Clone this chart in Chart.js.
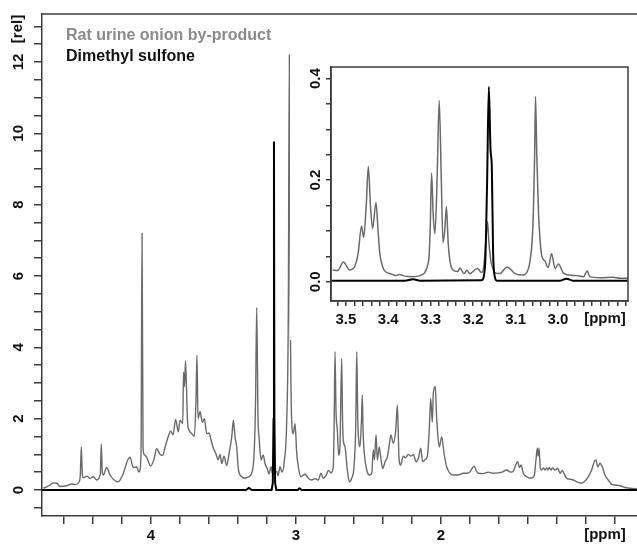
<!DOCTYPE html>
<html>
<head>
<meta charset="utf-8">
<script src="https://cdn.jsdelivr.net/npm/chart.js@4.4.1/dist/chart.umd.min.js"></script>
<style>
  html, body { margin: 0; padding: 0; background: #fff; }
  #wrap { position: relative; width: 637px; height: 548px; overflow: hidden; }
  #main { position: absolute; left: 0; top: 0; }
  #inset { position: absolute; left: 290px; top: 55px; }
</style>
</head>
<body>
<div id="wrap">
  <canvas id="main" width="637" height="548"></canvas>
  <canvas id="inset" width="347" height="285"></canvas>
</div>
<script>
// ---- Full spectrum: chemical shift [ppm] and relative intensity ----
const urineShift = [
  4.743, 4.719, 4.697, 4.674, 4.650, 4.628, 4.581, 4.547, 4.524, 4.501,
  4.488, 4.481, 4.474, 4.467, 4.443, 4.421, 4.398, 4.374, 4.350, 4.343,
  4.336, 4.329, 4.306, 4.283, 4.248, 4.226, 4.191, 4.163, 4.145, 4.122,
  4.099, 4.083, 4.069, 4.062, 4.055, 4.048, 4.030, 4.002, 3.979, 3.961,
  3.938, 3.919, 3.903, 3.881, 3.864, 3.848, 3.830, 3.812, 3.800, 3.781,
  3.776, 3.769, 3.762, 3.755, 3.748, 3.738, 3.719, 3.701, 3.690, 3.683,
  3.676, 3.662, 3.646, 3.632, 3.616, 3.600, 3.586, 3.570, 3.554, 3.536,
  3.524, 3.512, 3.497, 3.478, 3.460, 3.443, 3.432, 3.421, 3.409, 3.398,
  3.374, 3.352, 3.329, 3.306, 3.288, 3.279, 3.271, 3.262, 3.255, 3.241,
  3.226, 3.214, 3.198, 3.186, 3.172, 3.163, 3.152, 3.133, 3.124, 3.110,
  3.097, 3.081, 3.064, 3.053, 3.046, 3.039, 3.030, 3.019, 3.007, 2.995,
  2.984, 2.966, 2.938, 2.915, 2.892, 2.869, 2.846, 2.828, 2.812, 2.793,
  2.777, 2.759, 2.743, 2.737, 2.731, 2.724, 2.715, 2.706, 2.697, 2.685,
  2.679, 2.674, 2.662, 2.646, 2.632, 2.616, 2.600, 2.588, 2.581, 2.574,
  2.568, 2.559, 2.548, 2.543, 2.537, 2.529, 2.512, 2.494, 2.478, 2.467,
  2.459, 2.448, 2.439, 2.426, 2.416, 2.402, 2.386, 2.370, 2.357, 2.345,
  2.329, 2.312, 2.301, 2.294, 2.290, 2.278, 2.260, 2.245, 2.226, 2.207,
  2.190, 2.172, 2.155, 2.140, 2.126, 2.110, 2.094, 2.081, 2.071, 2.060,
  2.053, 2.039, 2.032, 2.026, 2.012, 1.995, 1.979, 1.961, 1.938, 1.915,
  1.883, 1.846, 1.819, 1.800, 1.786, 1.772, 1.754, 1.743, 1.710, 1.674,
  1.641, 1.605, 1.579, 1.547, 1.517, 1.500, 1.485, 1.471, 1.459, 1.448,
  1.432, 1.409, 1.379, 1.357, 1.345, 1.336, 1.330, 1.324, 1.315, 1.306,
  1.293, 1.283, 1.271, 1.262, 1.253, 1.241, 1.232, 1.214, 1.195, 1.179,
  1.163, 1.150, 1.133, 1.110, 1.088, 1.064, 1.034, 1.012, 0.984, 0.961,
  0.943, 0.931, 0.919, 0.903, 0.888, 0.869, 0.846, 0.823, 0.800, 0.766,
  0.731, 0.697, 0.648
];
const urineIntensity = [
  0.05, 0.09, 0.14, 0.20, 0.19, 0.10, 0.12, 0.17, 0.15, 0.20,
  0.40, 1.21, 0.45, 0.34, 0.39, 0.33, 0.37, 0.28, 0.45, 1.29,
  0.50, 0.42, 0.63, 0.42, 0.26, 0.23, 0.47, 0.82, 0.92, 0.63,
  0.65, 0.50, 1.00, 7.20, 1.20, 1.00, 0.92, 0.67, 0.87, 1.16,
  1.00, 0.97, 1.20, 1.50, 1.65, 1.55, 1.98, 1.63, 1.96, 1.86,
  3.30, 2.90, 3.62, 2.80, 1.90, 1.68, 1.58, 1.50, 2.50, 3.78,
  2.00, 2.20, 1.90, 2.00, 1.58, 1.60, 1.40, 1.17, 1.03, 0.85,
  1.00, 0.74, 0.95, 0.69, 1.07, 1.50, 1.96, 1.50, 1.20, 0.60,
  0.37, 0.33, 0.37, 0.47, 1.10, 2.50, 5.12, 2.00, 1.50, 0.84,
  0.98, 0.74, 0.60, 0.45, 0.65, 0.47, 0.45, 0.53, 0.40, 0.65,
  0.50, 0.79, 1.96, 5.00, 12.20, 5.00, 1.96, 1.58, 1.86, 1.03,
  0.65, 0.37, 0.44, 0.33, 0.28, 0.32, 0.28, 0.47, 0.33, 0.40,
  0.55, 0.48, 0.65, 1.80, 3.88, 2.20, 1.68, 0.98, 1.20, 3.69,
  2.00, 1.40, 1.21, 0.56, 0.23, 0.33, 0.65, 1.80, 3.88, 2.00,
  1.40, 1.21, 2.00, 2.66, 1.60, 1.03, 0.56, 0.42, 0.45, 1.12,
  0.85, 1.54, 0.84, 1.21, 0.93, 0.60, 0.79, 0.93, 1.26, 1.54,
  1.31, 1.68, 2.38, 1.50, 0.93, 0.70, 0.95, 0.90, 1.00, 0.95,
  1.00, 0.79, 0.90, 1.17, 0.79, 0.85, 0.95, 1.68, 2.57, 1.90,
  2.71, 2.90, 2.20, 1.77, 1.21, 1.49, 1.03, 0.65, 0.47, 0.42,
  0.42, 0.47, 0.47, 0.51, 0.60, 0.67, 0.52, 0.47, 0.46, 0.50,
  0.47, 0.48, 0.50, 0.56, 0.50, 0.53, 0.70, 0.79, 0.63, 0.70,
  0.47, 0.37, 0.33, 0.40, 0.84, 1.17, 0.95, 1.17, 0.61, 0.56,
  0.62, 0.56, 0.62, 0.56, 0.63, 0.56, 0.62, 0.56, 0.61, 0.47,
  0.55, 0.45, 0.33, 0.30, 0.28, 0.23, 0.19, 0.23, 0.37, 0.56,
  0.79, 0.84, 0.65, 0.75, 0.65, 0.42, 0.28, 0.16, 0.14, 0.12,
  0.07, 0.05, 0.03
];
const sulfoneShift = [
  4.752, 3.345, 3.325, 3.305, 3.168, 3.160, 3.155, 3.152, 3.149, 3.144,
  3.136, 2.988, 2.975, 2.962, 0.648
];
const sulfoneIntensity = [
  0.00, 0.00, 0.06, 0.00, 0.00, 0.20, 2.00, 9.75, 2.00, 0.20,
  0.00, 0.00, 0.05, 0.00, 0.00
];

// ---- Expanded region around the dimethyl sulfone singlet ----
const zoomUrineShift = [
  3.531, 3.519, 3.506, 3.491, 3.485, 3.479, 3.471, 3.463, 3.458, 3.452,
  3.447, 3.442, 3.437, 3.429, 3.424, 3.420, 3.415, 3.410, 3.392, 3.384,
  3.373, 3.361, 3.344, 3.325, 3.314, 3.308, 3.304, 3.301, 3.298, 3.294,
  3.290, 3.285, 3.280, 3.275, 3.271, 3.267, 3.263, 3.259, 3.255, 3.248,
  3.236, 3.231, 3.222, 3.215, 3.208, 3.190, 3.180, 3.175, 3.170, 3.166,
  3.163, 3.158, 3.153, 3.149, 3.137, 3.120, 3.101, 3.082, 3.070, 3.066,
  3.061, 3.058, 3.055, 3.053, 3.050, 3.046, 3.042, 3.038, 3.031, 3.023,
  3.015, 3.007, 2.999, 2.987, 2.972, 2.956, 2.940, 2.931, 2.925, 2.901,
  2.870, 2.854, 2.834
];
const zoomUrineIntensity = [
  0.023, 0.022, 0.039, 0.023, 0.025, 0.030, 0.056, 0.110, 0.087, 0.150,
  0.227, 0.150, 0.105, 0.156, 0.100, 0.056, 0.035, 0.023, 0.015, 0.012,
  0.014, 0.011, 0.010, 0.012, 0.018, 0.030, 0.050, 0.110, 0.214, 0.130,
  0.095, 0.200, 0.357, 0.200, 0.077, 0.100, 0.148, 0.080, 0.043, 0.023,
  0.020, 0.027, 0.016, 0.022, 0.016, 0.026, 0.018, 0.030, 0.080, 0.118,
  0.080, 0.040, 0.025, 0.018, 0.016, 0.029, 0.016, 0.013, 0.025, 0.040,
  0.080, 0.138, 0.250, 0.365, 0.250, 0.138, 0.080, 0.050, 0.041, 0.028,
  0.055, 0.026, 0.035, 0.017, 0.013, 0.012, 0.010, 0.021, 0.010, 0.008,
  0.009, 0.007, 0.007
];
const zoomSulfoneShift = [
  3.535, 3.361, 3.341, 3.325, 3.180, 3.172, 3.167, 3.163, 3.159, 3.156,
  3.153, 3.149, 3.144, 2.995, 2.980, 2.965, 2.835
];
const zoomSulfoneIntensity = [
  0.002, 0.002, 0.005, 0.002, 0.003, 0.030, 0.200, 0.384, 0.260, 0.227,
  0.060, 0.010, 0.002, 0.002, 0.006, 0.002, 0.002
];

// ---- Axis ticks and labels ----
const mainXTicks = [4.6, 4.4, 4.2, 4.0, 3.8, 3.6, 3.4, 3.2, 3.0, 2.8, 2.6, 2.4, 2.2, 2.0, 1.8, 1.6, 1.4, 1.2, 1.0, 0.8];
const mainXLabels = [4, 3, 2];
const mainYTicks = [-0.5, 0, 0.5, 1, 1.5, 2, 2.5, 3, 3.5, 4, 4.5, 5, 5.5, 6, 6.5, 7, 7.5, 8, 8.5, 9, 9.5, 10, 10.5, 11, 11.5, 12, 12.5, 13];
const mainYLabels = [0, 2, 4, 6, 8, 10, 12];
const zoomXTicks = [3.52, 3.50, 3.48, 3.46, 3.44, 3.42, 3.40, 3.38, 3.36, 3.34, 3.32, 3.30, 3.28, 3.26, 3.24, 3.22, 3.20, 3.18, 3.16, 3.14, 3.12, 3.10, 3.08, 3.06, 3.04, 3.02, 3.00, 2.98, 2.96, 2.94, 2.92, 2.90, 2.88, 2.86, 2.84];
const zoomXLabels = [3.5, 3.4, 3.3, 3.2, 3.1, 3.0];
const zoomYTicks = [0, 0.05, 0.1, 0.15, 0.2, 0.25, 0.3, 0.35, 0.4];
const zoomYLabels = [0, 0.2, 0.4];

const seriesNames = ['Rat urine onion by-product', 'Dimethyl sulfone'];
const unitX = '[ppm]';
const unitY = '[rel]';

// ---- Styling ----
const FONT = '"Liberation Sans", Arial, Helvetica, sans-serif';
const AXIS = '#3c3c3c';
const URINE = '#6a6a6a';
const SULFONE = '#000000';

function pairs(xs, ys) { return xs.map((x, i) => ({ x: x, y: ys[i] })); }
function isLabel(list, v) { return list.some(l => Math.abs(l - v) < 1e-6); }

function rotatedText(ctx, text, x, y) {
  ctx.save();
  ctx.translate(x, y);
  ctx.rotate(-Math.PI / 2);
  ctx.textAlign = 'center';
  ctx.textBaseline = 'middle';
  ctx.fillText(text, 0, 0);
  ctx.restore();
}

function axisOpts(ticks, tickLen, fit, labelCb, labelPad) {
  return {
    type: 'linear',
    afterBuildTicks: s => { s.ticks = ticks.map(v => ({ value: v })); },
    afterFit: fit,
    grid: { drawOnChartArea: false, drawTicks: true, tickLength: tickLen, color: AXIS, lineWidth: 1.5 },
    border: { display: true, color: AXIS, width: 1.5 },
    ticks: labelCb ? {
      autoSkip: false, maxRotation: 0, minRotation: 0, padding: labelPad,
      color: '#111', font: { family: FONT, size: 15, weight: 'bold' },
      callback: labelCb
    } : { display: false }
  };
}

// ---- Full spectrum ----
const mainDecor = {
  id: 'mainDecor',
  beforeDraw(chart) {
    const c = chart.ctx;
    c.save(); c.fillStyle = '#fff'; c.fillRect(0, 0, chart.width, chart.height); c.restore();
  },
  afterDraw(chart) {
    const c = chart.ctx, a = chart.chartArea, ys = chart.scales.y;
    c.save();
    c.strokeStyle = AXIS; c.lineWidth = 1.5;
    c.beginPath(); c.moveTo(a.left, a.top); c.lineTo(a.right, a.top); c.stroke();
    c.fillStyle = '#111';
    c.font = 'bold 15px ' + FONT;
    mainYLabels.forEach(v => rotatedText(c, String(v), 19, ys.getPixelForValue(v)));
    rotatedText(c, unitY, 18, 29);
    c.textAlign = 'center'; c.textBaseline = 'top';
    c.fillText(unitX, 605, a.bottom + 11);
    c.font = 'bold 16px ' + FONT;
    c.textAlign = 'left'; c.textBaseline = 'middle';
    c.fillStyle = '#8a8a8a'; c.fillText(seriesNames[0], 66, 36);
    c.fillStyle = '#111'; c.fillText(seriesNames[1], 66, 57);
    c.restore();
  }
};

new Chart(document.getElementById('main'), {
  type: 'line',
  data: {
    datasets: [
      { label: seriesNames[1], data: pairs(sulfoneShift, sulfoneIntensity), borderColor: SULFONE, borderWidth: 2, order: 0 },
      { label: seriesNames[0], data: pairs(urineShift, urineIntensity), borderColor: URINE, borderWidth: 1.4, order: 1,
        cubicInterpolationMode: 'monotone' }
    ]
  },
  options: {
    responsive: false, animation: false, devicePixelRatio: 1,
    layout: { padding: { left: 0, top: 14, right: 0, bottom: 0 } },
    elements: { point: { radius: 0 }, line: { tension: 0, fill: false, borderJoinStyle: 'round' } },
    plugins: { legend: { display: false }, tooltip: { enabled: false } },
    scales: {
      x: Object.assign(axisOpts(mainXTicks, 8, s => { s.height = 32; },
        v => isLabel(mainXLabels, v) ? String(Math.round(v)) : '', 3), { reverse: true, min: 0.648, max: 4.752 }),
      y: Object.assign(axisOpts(mainYTicks, 8, s => { s.width = 42; }, null), { min: -0.729, max: 13.345 })
    }
  },
  plugins: [mainDecor]
});

// ---- Expanded region ----
const insetDecor = {
  id: 'insetDecor',
  beforeDraw(chart) {
    const c = chart.ctx;
    c.save(); c.fillStyle = '#fff'; c.fillRect(0, 0, chart.width, chart.height); c.restore();
  },
  afterDraw(chart) {
    const c = chart.ctx, a = chart.chartArea, ys = chart.scales.y;
    c.save();
    c.strokeStyle = AXIS; c.lineWidth = 1.5;
    c.strokeRect(a.left, a.top, a.right - a.left, a.bottom - a.top);
    c.fillStyle = '#111';
    c.font = 'bold 15px ' + FONT;
    zoomYLabels.forEach(v => rotatedText(c, v.toFixed(1), 26, ys.getPixelForValue(v)));
    c.textAlign = 'center'; c.textBaseline = 'top';
    c.fillText(unitX, 315, a.bottom + 10);
    c.restore();
  }
};

new Chart(document.getElementById('inset'), {
  type: 'line',
  data: {
    datasets: [
      { label: seriesNames[1], data: pairs(zoomSulfoneShift, zoomSulfoneIntensity), borderColor: SULFONE, borderWidth: 2, order: 0,
        cubicInterpolationMode: 'monotone' },
      { label: seriesNames[0], data: pairs(zoomUrineShift, zoomUrineIntensity), borderColor: URINE, borderWidth: 1.5, order: 1,
        cubicInterpolationMode: 'monotone' }
    ]
  },
  options: {
    responsive: false, animation: false, devicePixelRatio: 1,
    layout: { padding: { left: 0, top: 12, right: 9, bottom: 0 } },
    elements: { point: { radius: 0 }, line: { tension: 0, fill: false, borderJoinStyle: 'round' } },
    plugins: { legend: { display: false }, tooltip: { enabled: false } },
    scales: {
      x: Object.assign(axisOpts(zoomXTicks, 5, s => { s.height = 39; },
        v => isLabel(zoomXLabels, v) ? v.toFixed(1) : '', 5), { reverse: true, min: 2.835, max: 3.535 }),
      y: Object.assign(axisOpts(zoomYTicks, 5, s => { s.width = 41; }, null), { min: -0.038, max: 0.423 })
    }
  },
  plugins: [insetDecor]
});
</script>
</body>
</html>
